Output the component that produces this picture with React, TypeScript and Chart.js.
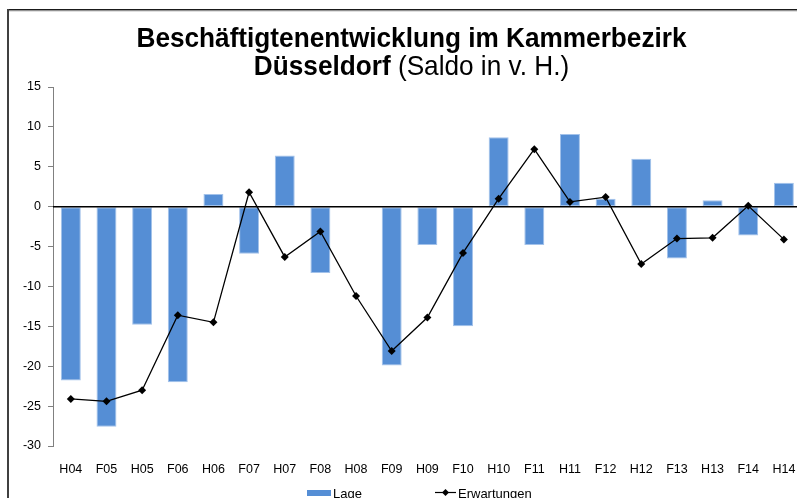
import React, { useEffect, useRef } from "react";
import { Chart, registerables } from "chart.js";

Chart.register(...registerables);

const categories = ["H04", "F05", "H05", "F06", "H06", "F07", "H07", "F08", "H08", "F09", "H09", "F10", "H10", "F11", "H11", "F12", "H12", "F13", "H13", "F14", "H14"];
const lage = [-21.8, -27.6, -14.8, -22.0, 1.6, -5.9, 6.4, -8.3, 0, -19.9, -4.8, -15.0, 8.7, -4.8, 9.1, 1.0, 6.0, -6.5, 0.8, -3.6, 3.0];
const erwartungen = [-24.1, -24.4, -23.0, -13.6, -14.5, 1.8, -6.3, -3.1, -11.2, -18.1, -13.9, -5.8, 1.0, 7.2, 0.6, 1.2, -7.2, -4.0, -3.9, 0.1, -4.1];
const yMin = -30;
const yMax = 15;
const yStep = 5;
const titleLine1 = "Beschäftigtenentwicklung im Kammerbezirk";
const titleLine2Bold = "Düsseldorf";
const titleLine2Normal = " (Saldo in v. H.)";
const legendLabels = ["Lage", "Erwartungen"];

const FONT = "'Liberation Sans', Arial, sans-serif";
const W = 840;
const H = 498;

const decorPlugin = {
  id: "decor",
  beforeDatasetDraw(chart: any, args: any) {
    if (args.index !== 1) return;
    const { ctx, chartArea } = chart;
    const y0 = chart.scales.y.getPixelForValue(0);
    ctx.save();
    ctx.strokeStyle = "#000";
    ctx.lineWidth = 1.5;
    ctx.beginPath();
    ctx.moveTo(chartArea.left, y0);
    ctx.lineTo(chartArea.right, y0);
    ctx.stroke();
    ctx.restore();
  },
  afterDraw(chart: any) {
    const { ctx } = chart;
    ctx.save();
    // frame
    ctx.fillStyle = "#1a1a1a";
    ctx.fillRect(7, 9, W, 1.5);
    ctx.fillStyle = "#9a9a9a";
    ctx.fillRect(7, 10.5, W, 0.8);
    ctx.fillStyle = "#404040";
    ctx.fillRect(7, 9, 2, H);

    // title
    const cx = 411.5;
    ctx.fillStyle = "#000";
    ctx.textBaseline = "alphabetic";
    ctx.font = `bold 28px ${FONT}`;
    const w1 = ctx.measureText(titleLine1).width;
    const target = 550;
    const sx = target / w1;
    ctx.save();
    ctx.translate(cx, 0);
    ctx.scale(sx, 1);
    ctx.textAlign = "center";
    ctx.fillText(titleLine1, 0, 46.5);
    ctx.restore();

    ctx.font = `bold 28px ${FONT}`;
    const wb = ctx.measureText(titleLine2Bold).width;
    ctx.font = `28px ${FONT}`;
    const wn = ctx.measureText(titleLine2Normal).width;
    const total = (wb + wn) * sx;
    ctx.save();
    ctx.translate(cx - total / 2, 0);
    ctx.scale(sx, 1);
    ctx.textAlign = "left";
    ctx.font = `bold 28px ${FONT}`;
    ctx.fillText(titleLine2Bold, 0, 74.5);
    ctx.font = `28px ${FONT}`;
    ctx.fillText(titleLine2Normal, wb, 74.5);
    ctx.restore();

    // legend
    ctx.font = `13px ${FONT}`;
    ctx.textAlign = "left";
    ctx.fillStyle = "#558ed5";
    ctx.fillRect(307, 490, 24, 6);
    ctx.fillStyle = "#000";
    ctx.fillText(legendLabels[0], 333, 497.5);

    ctx.strokeStyle = "#000";
    ctx.lineWidth = 1.2;
    ctx.beginPath();
    ctx.moveTo(435, 492.5);
    ctx.lineTo(456, 492.5);
    ctx.stroke();
    ctx.beginPath();
    ctx.moveTo(445.5, 489);
    ctx.lineTo(449, 492.5);
    ctx.lineTo(445.5, 496);
    ctx.lineTo(442, 492.5);
    ctx.closePath();
    ctx.fill();
    ctx.fillText(legendLabels[1], 458, 497.5);
    ctx.restore();
  },
};

export default function App() {
  const ref = useRef<HTMLCanvasElement>(null);
  useEffect(() => {
    if (!ref.current) return;
    const chart = new Chart(ref.current, {
      type: "bar",
      data: {
        labels: categories,
        datasets: [
          {
            type: "bar",
            label: legendLabels[0],
            data: lage,
            backgroundColor: "#558ed5",
            borderColor: "#a3c2ea",
            borderWidth: 1,
            borderSkipped: false,
            barPercentage: 0.56,
            categoryPercentage: 1,
            order: 1,
          },
          {
            type: "line",
            label: legendLabels[1],
            data: erwartungen,
            borderColor: "#000",
            backgroundColor: "#000",
            borderWidth: 1.3,
            pointStyle: "rectRot",
            pointRadius: 4,
            pointBackgroundColor: "#000",
            pointBorderColor: "#000",
            pointBorderWidth: 0,
            tension: 0,
            order: 0,
          },
        ] as any,
      },
      options: {
        responsive: false,
        animation: false,
        devicePixelRatio: 1,
        layout: { padding: { top: 87, bottom: 20, left: 0, right: 38.3 } },
        plugins: {
          legend: { display: false },
          title: { display: false },
          tooltip: { enabled: false },
        },
        scales: {
          x: {
            grid: { display: false },
            border: { display: false },
            ticks: {
              color: "#000",
              font: { family: FONT, size: 12.5 },
              padding: 8,
              maxRotation: 0,
              autoSkip: false,
            },
            afterFit(scale: any) {
              scale.height = 32;
            },
          },
          y: {
            min: yMin,
            max: yMax,
            grid: {
              display: true,
              drawOnChartArea: false,
              drawTicks: true,
              tickLength: 5,
              tickColor: "#808080",
              color: "#808080",
            },
            border: { display: true, color: "#808080", width: 1 },
            ticks: {
              stepSize: yStep,
              color: "#000",
              font: { family: FONT, size: 12.5 },
              padding: 7,
            },
            afterFit(scale: any) {
              scale.width = 53;
            },
          },
        },
      },
      plugins: [decorPlugin],
    });
    return () => chart.destroy();
  }, []);
  return (
    <div style={{ position: "absolute", left: 0, top: 0, width: 797, height: 498, overflow: "hidden", background: "#fff" }}>
      <canvas ref={ref} width={W} height={H} style={{ width: W, height: H, display: "block" }} />
    </div>
  );
}
